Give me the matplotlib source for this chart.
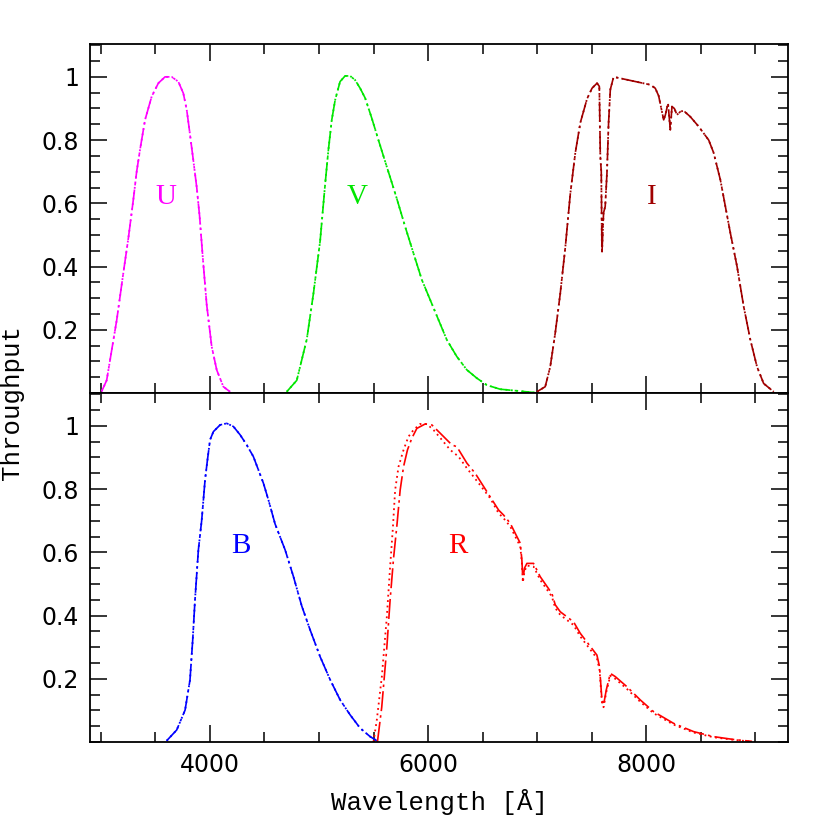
import numpy as np
import matplotlib
matplotlib.use("Agg")
import matplotlib.pyplot as plt
from matplotlib.ticker import MultipleLocator, FixedLocator

# --- filter curves (wavelength in Angstrom, throughput) ---
u_wave = [3007, 3053, 3145, 3206, 3252, 3297, 3328, 3359, 3405, 3466, 3527, 3588,
          3649, 3710, 3756, 3787, 3817, 3848, 3879, 3905, 3934, 3970, 4016, 4062,
          4123, 4184]
u_thru = [0.005, 0.04, 0.23, 0.38, 0.49, 0.61, 0.70, 0.77, 0.864, 0.938, 0.98, 1.0,
          1.0, 0.985, 0.948, 0.896, 0.818, 0.735, 0.65, 0.56, 0.43, 0.28, 0.147, 0.073,
          0.02, 0.004]

v_wave = [4704, 4796, 4888, 4949, 5010, 5056, 5086, 5117, 5148, 5193, 5239, 5285,
          5331, 5377, 5423, 5484, 5545, 5622, 5668, 5713, 5790, 5866, 5943, 6019,
          6096, 6172, 6264, 6356, 6447, 6539, 6661, 6814, 6982]
v_thru = [0.004, 0.04, 0.17, 0.315, 0.48, 0.66, 0.769, 0.864, 0.927, 0.985, 1.003, 1.003,
          0.99, 0.964, 0.933, 0.869, 0.80, 0.715, 0.665, 0.615, 0.526, 0.442, 0.358, 0.295,
          0.231, 0.168, 0.115, 0.073, 0.047, 0.025, 0.012, 0.007, 0.001]

i_wave = [6998, 7074, 7120, 7166, 7212, 7258, 7304, 7350, 7396, 7457, 7503, 7549,
          7570, 7579, 7588, 7594, 7609, 7624, 7640, 7655, 7671, 7701, 8038, 8083,
          8114, 8160, 8176, 8200, 8221, 8236, 8258, 8282, 8313, 8343, 8404, 8481,
          8573, 8618, 8680, 8772, 8833, 8894, 8955, 9016, 9077, 9169]
i_thru = [0.004, 0.02, 0.083, 0.19, 0.315, 0.46, 0.63, 0.76, 0.855, 0.93, 0.964, 0.98,
          0.97, 0.75, 0.70, 0.44, 0.57, 0.59, 0.695, 0.855, 0.96, 1.0, 0.975, 0.964,
          0.94, 0.864, 0.88, 0.917, 0.832, 0.906, 0.90, 0.88, 0.89, 0.893, 0.874, 0.843,
          0.80, 0.76, 0.674, 0.505, 0.40, 0.273, 0.168, 0.083, 0.03, 0.004]

b_wave = [3603, 3695, 3772, 3817, 3842, 3863, 3894, 3924, 3940, 3955, 3977, 4001,
          4032, 4093, 4154, 4215, 4276, 4337, 4398, 4444, 4490, 4536, 4597, 4689,
          4765, 4842, 4918, 5010, 5102, 5194, 5285, 5377, 5469, 5530]
b_thru = [0.004, 0.038, 0.101, 0.196, 0.323, 0.45, 0.608, 0.70, 0.766, 0.829, 0.892, 0.956,
          0.982, 1.003, 1.008, 0.998, 0.972, 0.94, 0.903, 0.861, 0.819, 0.766, 0.69, 0.608,
          0.524, 0.43, 0.355, 0.27, 0.197, 0.133, 0.086, 0.044, 0.017, 0.004]

r_wave = [5536, 5575, 5622, 5652, 5683, 5713, 5744, 5775, 5811, 5851, 5897, 5973,
          6035, 6096, 6157, 6218, 6264, 6356, 6432, 6539, 6646, 6692, 6753, 6814,
          6845, 6860, 6869, 6884, 6906, 6967, 7028, 7135, 7166, 7212, 7334, 7395,
          7548, 7572, 7594, 7609, 7634, 7671, 7716, 7823, 7946, 8068, 8251, 8434,
          8618, 8801, 8970]
r_thru = [0.001, 0.11, 0.30, 0.45, 0.58, 0.681, 0.797, 0.871, 0.924, 0.961, 0.992, 1.006,
          1.003, 0.982, 0.961, 0.94, 0.934, 0.882, 0.85, 0.792, 0.734, 0.718, 0.692, 0.65,
          0.629, 0.576, 0.513, 0.55, 0.565, 0.565, 0.523, 0.47, 0.434, 0.412, 0.38, 0.344,
          0.275, 0.238, 0.133, 0.117, 0.165, 0.217, 0.207, 0.175, 0.133, 0.096, 0.059, 0.033,
          0.017, 0.008, 0.002]

# the second (dotted) R curve differs from the dashed one
r2_wave = [5499, 5530, 5576, 5622, 5652, 5677, 5698, 5729, 5775, 5820, 5866, 5927,
           5989, 6050, 6126, 6203, 6279, 6356, 6463, 6570, 6646, 6692, 6753, 6814,
           6845, 6860, 6869, 6884, 6906, 6967, 7028, 7135, 7166, 7212, 7334, 7395,
           7548, 7572, 7594, 7609, 7634, 7671, 7716, 7823, 7946, 8068, 8251, 8434,
           8618, 8801, 8970]
r2_thru = [0.0, 0.07, 0.207, 0.397, 0.555, 0.676, 0.797, 0.871, 0.924, 0.966, 0.987, 1.006,
           1.006, 0.987, 0.956, 0.924, 0.903, 0.866, 0.819, 0.771, 0.724, 0.708, 0.682, 0.64,
           0.619, 0.566, 0.505, 0.54, 0.558, 0.555, 0.513, 0.46, 0.424, 0.402, 0.37, 0.334,
           0.265, 0.228, 0.125, 0.11, 0.158, 0.21, 0.2, 0.168, 0.127, 0.091, 0.055, 0.03,
           0.015, 0.007, 0.001]

top_bands = [("U", u_wave, u_thru, u_wave, u_thru, "#ff00ff", 3600),
             ("V", v_wave, v_thru, v_wave, v_thru, "#00e600", 5350),
             ("I", i_wave, i_thru, i_wave, i_thru, "#a00000", 8050)]
bot_bands = [("B", b_wave, b_thru, b_wave, b_thru, "#0000ff", 4280),
             ("R", r_wave, r_thru, r2_wave, r2_thru, "#ff0000", 6270)]

y_ticks = [0.2, 0.4, 0.6, 0.8, 1.0]
y_ticklabels = ["0.2", "0.4", "0.6", "0.8", "1"]
x_ticks = [4000, 6000, 8000]

fig = plt.figure(figsize=(8.3, 8.3), dpi=100)
fig.subplots_adjust(left=0.1084, right=0.9494, top=0.947, bottom=0.106, hspace=0)
ax_top = fig.add_subplot(2, 1, 1)
ax_bot = fig.add_subplot(2, 1, 2, sharex=ax_top)

dashdot = (0, (12, 2.5, 1.5, 2.5))
dotted = (0, (1, 2))

for ax, bands in [(ax_top, top_bands), (ax_bot, bot_bands)]:
    for name, w1, t1, w2, t2, col, xlab in bands:
        ax.plot(w1, t1, color=col, lw=1.2, ls=dashdot)
        ax.plot(w2, t2, color=col, lw=1.3, ls=dotted)
        ax.text(xlab, 0.62, name, color=col, fontsize=21, family="Liberation Serif",
                ha="center", va="center")
    ax.set_xlim(2900, 9300)
    ax.set_ylim(0, 1.104)
    ax.yaxis.set_major_locator(FixedLocator(y_ticks))
    ax.set_yticklabels(y_ticklabels)
    ax.yaxis.set_minor_locator(MultipleLocator(0.05))
    ax.xaxis.set_major_locator(FixedLocator(x_ticks))
    ax.xaxis.set_minor_locator(MultipleLocator(500))
    ax.tick_params(which="both", direction="in", top=True, right=True, width=1.1,
                   labelsize=17, pad=8)
    ax.tick_params(which="major", length=12)
    ax.tick_params(which="minor", length=7)
    for s in ax.spines.values():
        s.set_linewidth(1.3)

ax_top.tick_params(labelbottom=False)
ax_bot.set_xticklabels(["4000", "6000", "8000"])

fig.text(0.530, 0.034, "Wavelength [Å]", ha="center", va="center", fontsize=18.5,
         family="Liberation Mono")
fig.text(0.0145, 0.515, "Throughput", ha="center", va="center", rotation=90,
         fontsize=18.5, family="Liberation Mono")

fig.savefig("out.png", dpi=100)
